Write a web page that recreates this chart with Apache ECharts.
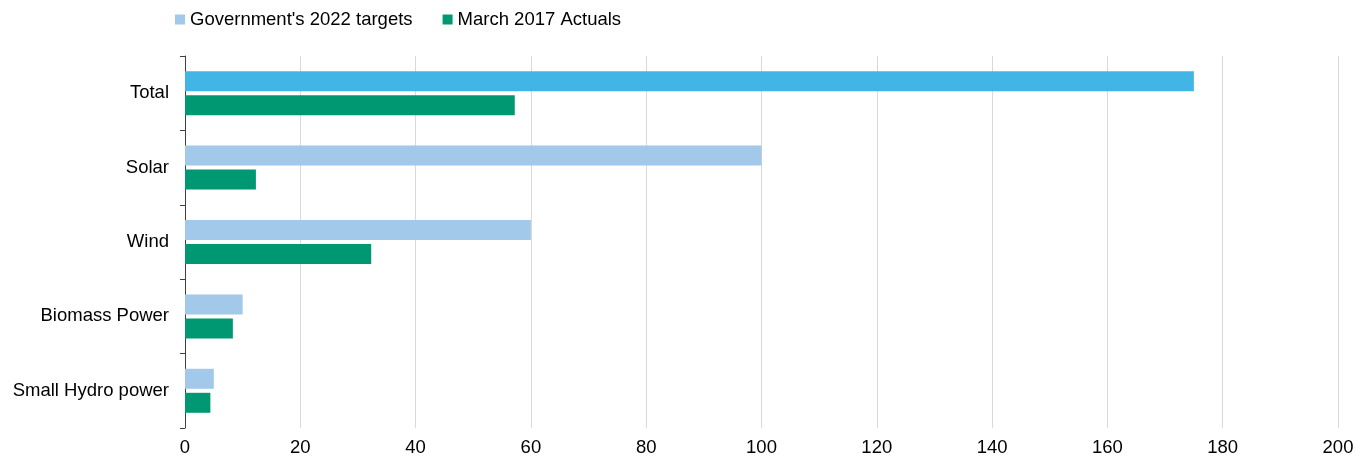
<!DOCTYPE html>
<html>
<head>
<meta charset="utf-8">
<script src="https://cdn.jsdelivr.net/npm/echarts@6/dist/echarts.min.js"></script>
<style>html,body{margin:0;padding:0;background:#fff}#c{width:1361px;height:458px}</style>
</head>
<body>
<div id="c"></div>
<script>
const categories = ['Total', 'Solar', 'Wind', 'Biomass Power', 'Small Hydro power'];
const targets2022 = [175, 100, 60, 10, 5];
const actuals2017 = [57.2, 12.3, 32.3, 8.3, 4.4];
const xTicks = [0, 20, 40, 60, 80, 100, 120, 140, 160, 180, 200];

const chart = echarts.init(document.getElementById('c'), null, {renderer: 'canvas'});
const font = 'Liberation Sans, Arial, sans-serif';
chart.setOption({
  animation: false,
  textStyle: {fontFamily: font},
  legend: {
    left: 170, top: 5,
    itemWidth: 10, itemHeight: 10, itemGap: 30,
    icon: 'rect',
    textStyle: {fontSize: 18.5, color: '#000', fontFamily: font},
    data: [
      {name: "Government's 2022 targets", itemStyle: {color: '#A2C8EA'}},
      {name: 'March 2017 Actuals', itemStyle: {color: '#009873'}}
    ]
  },
  grid: {left: 185, right: 23, top: 56, bottom: 30, containLabel: false},
  xAxis: {
    type: 'value', min: xTicks[0], max: xTicks[xTicks.length - 1], interval: 20,
    axisLine: {show: false}, axisTick: {show: false},
    axisLabel: {fontSize: 18.5, color: '#000', margin: 10, fontFamily: font},
    splitLine: {lineStyle: {color: '#D9D9D9', width: 1}}
  },
  yAxis: {
    type: 'category', data: categories, inverse: true,
    axisLine: {show: true, lineStyle: {color: '#404040', width: 1}},
    axisTick: {show: true, length: 5, lineStyle: {color: '#404040'}},
    axisLabel: {fontSize: 18.5, color: '#000', margin: 16, fontFamily: font}
  },
  series: [
    {
      name: "Government's 2022 targets", type: 'bar',
      data: targets2022.map((v, i) => ({value: v, itemStyle: {color: i === 0 ? '#41B6E6' : '#A2C8EA'}})),
      barWidth: 20, barGap: '20%',
      itemStyle: {color: '#A2C8EA'}
    },
    {
      name: 'March 2017 Actuals', type: 'bar',
      data: actuals2017,
      barWidth: 20, barGap: '20%',
      itemStyle: {color: '#009873'}
    }
  ]
});
</script>
</body>
</html>
